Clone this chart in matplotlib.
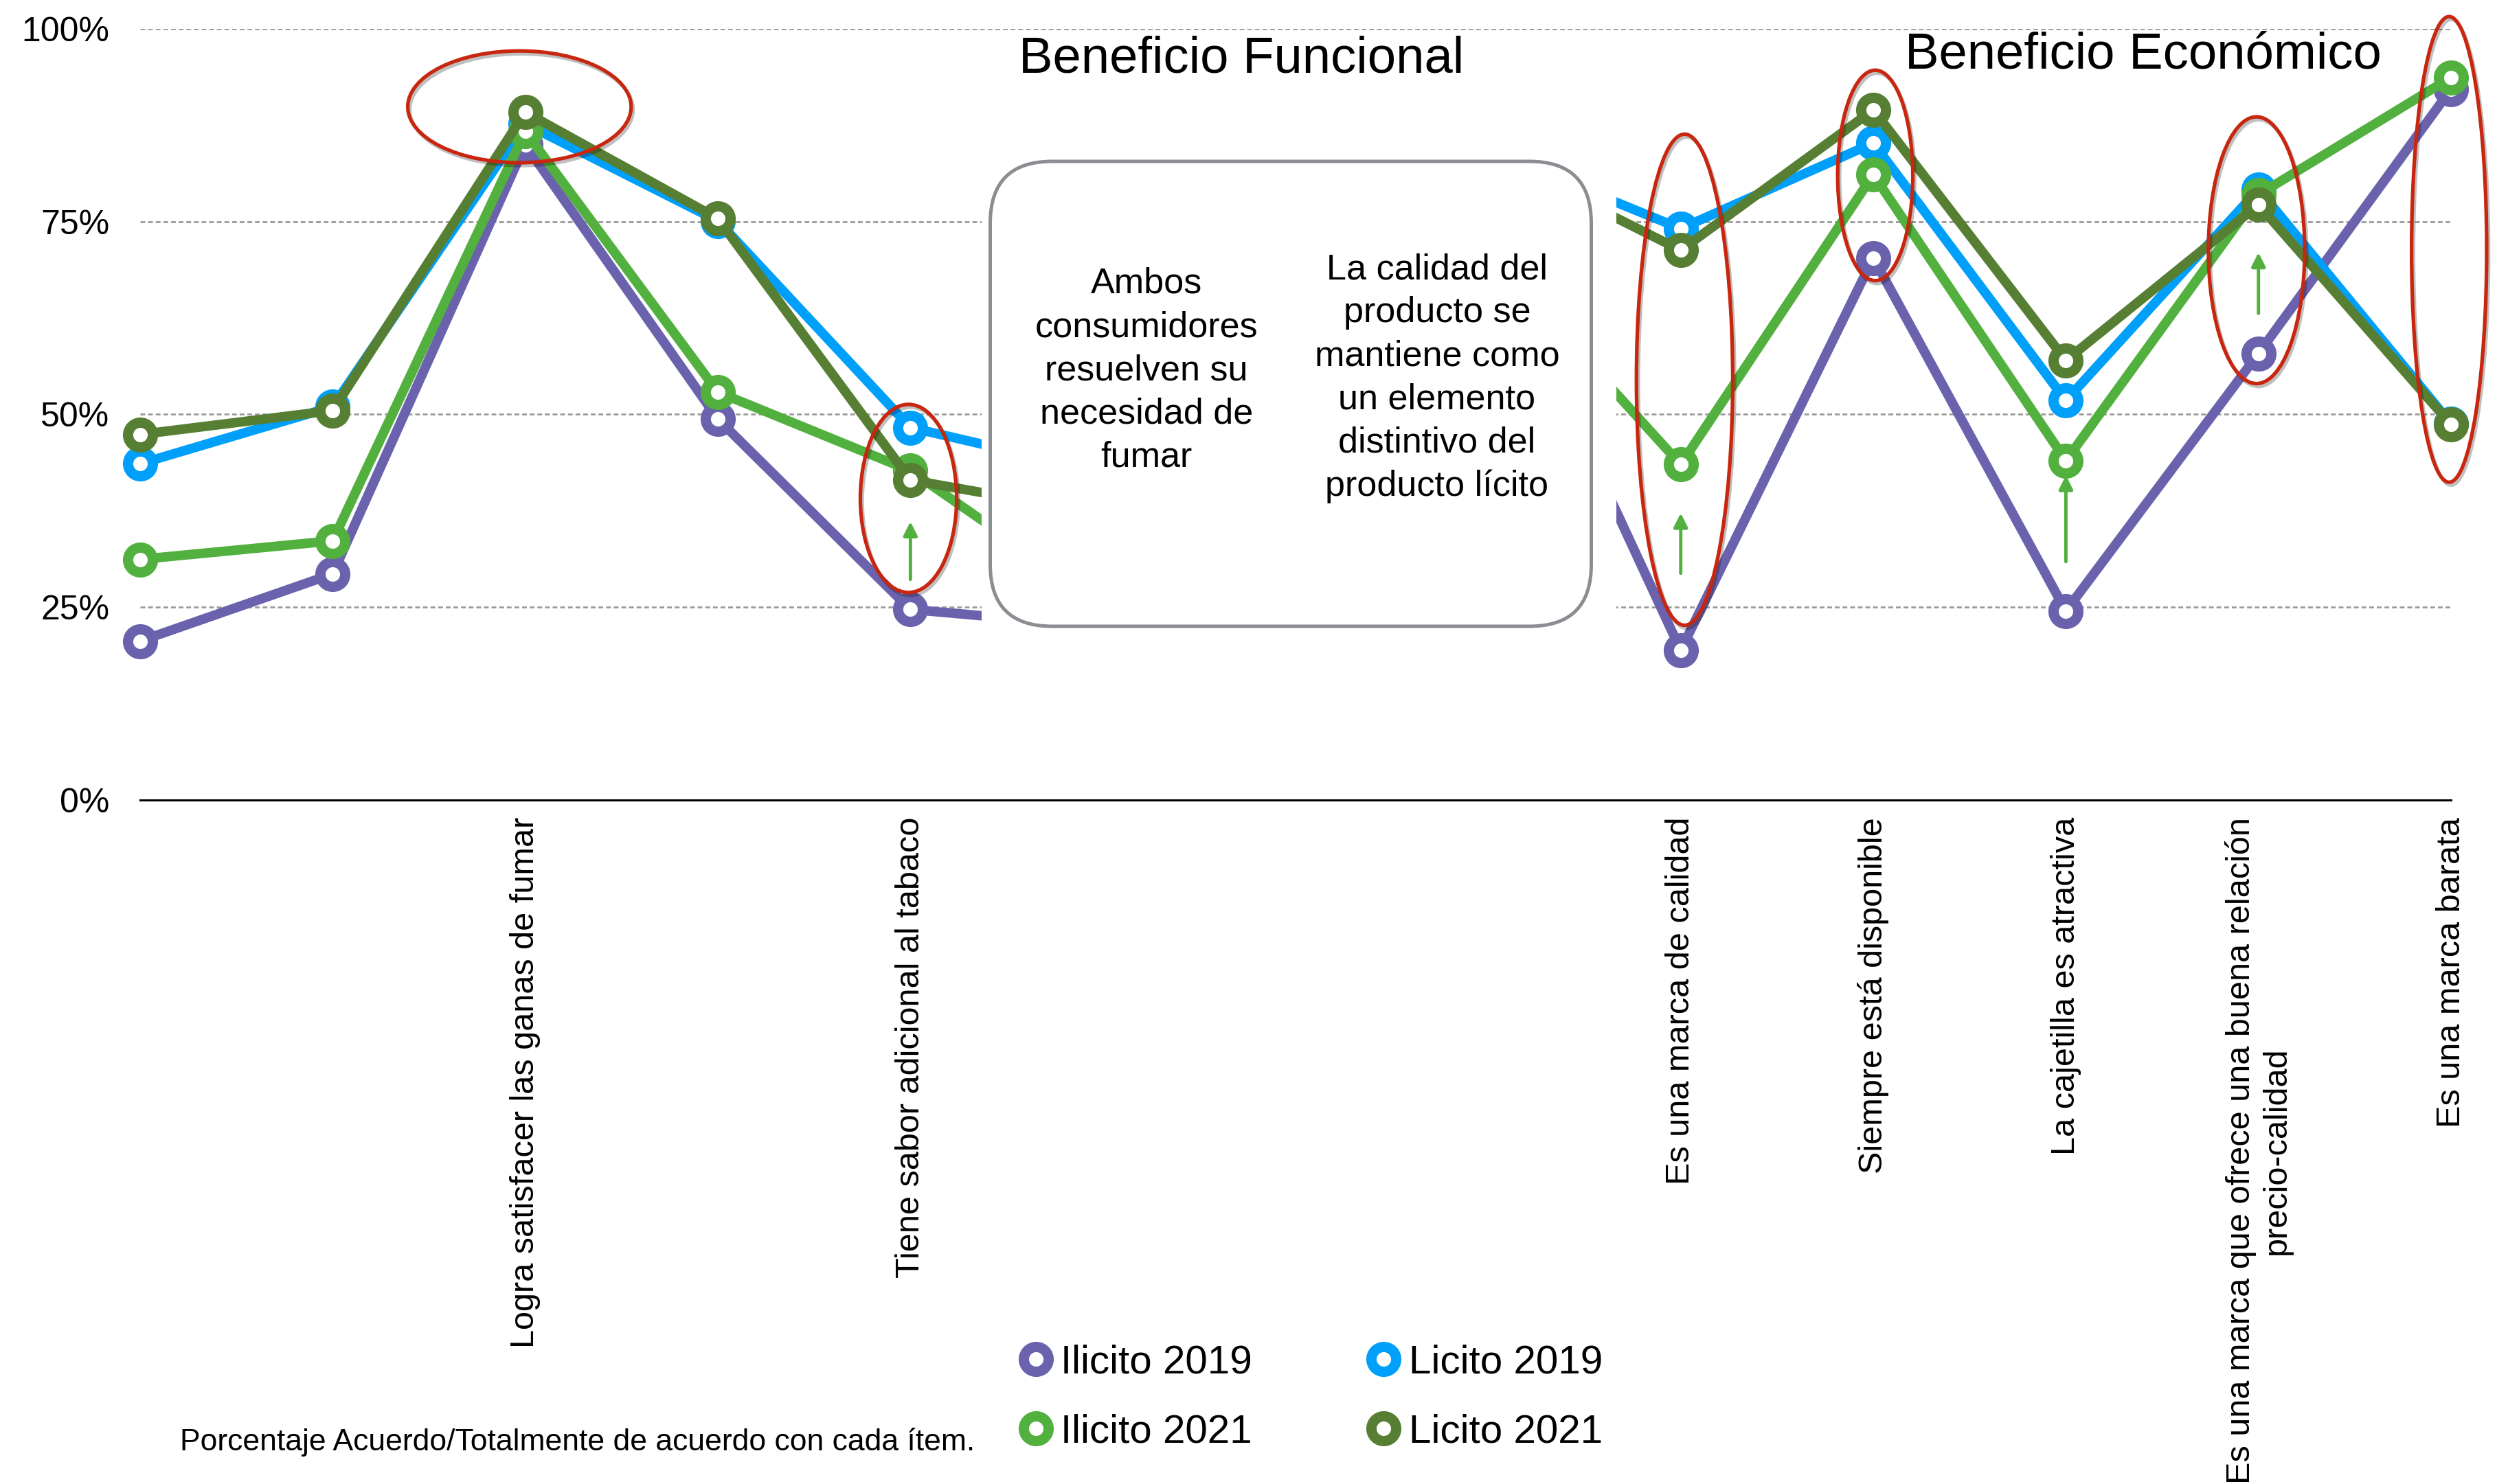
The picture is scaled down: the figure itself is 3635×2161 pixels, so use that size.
import numpy as np
import matplotlib.pyplot as plt
from matplotlib.lines import Line2D
from matplotlib.patches import Ellipse, Rectangle, FancyBboxPatch
import matplotlib.patheffects as pe

plt.rcParams['font.family'] = ['Liberation Sans', 'DejaVu Sans']

# items (only some carry a visible label in the slide)
items = ['', '', 'Logra satisfacer las ganas de fumar', '', 'Tiene sabor adicional al tabaco',
         '', '', '',
         'Es una marca de calidad', 'Siempre está disponible', 'La cajetilla es atractiva',
         'Es una marca que ofrece una buena relación\nprecio-calidad', 'Es una marca barata']

# % acuerdo / totalmente de acuerdo
ilicito_2019 = [20.6, 29.3, 85.0, 49.4, 24.7, 22.5, 47.0, 73.3, 19.4, 70.3, 24.5, 57.9, 92.2]
licito_2019 = [43.6, 51.0, 87.7, 75.1, 48.3, 42.5, 62.0, 84.3, 74.1, 85.2, 51.8, 79.2, 48.8]
ilicito_2021 = [31.2, 33.6, 86.7, 52.9, 42.7, 25.4, 46.0, 71.0, 43.5, 81.1, 44.0, 78.5, 93.7]
licito_2021 = [47.4, 50.5, 89.2, 75.4, 41.5, 37.1, 60.0, 83.8, 71.3, 89.5, 57.0, 77.2, 48.7]

yticks = [0, 25, 50, 75, 100]
ytick_labels = ['0%', '25%', '50%', '75%', '100%']

# red highlight ellipses: (x, y, width, height) in data units
highlights = [(1.97, 89.9, 1.16, 14.5), (3.99, 39.1, 0.50, 24.4), (8.02, 54.5, 0.50, 63.7),
              (9.01, 81.0, 0.39, 27.3), (10.99, 71.3, 0.50, 34.6), (11.99, 71.4, 0.39, 60.4)]
# small green arrows: (x, from, to)
arrows = [(4, 28.6, 36.1), (8, 29.4, 37.2), (10, 30.9, 42.1), (11, 63.1, 71.0)]

c_purple = '#6b62ae'
c_blue = '#00a0fa'
c_green = '#52b03e'
c_dgreen = '#567f33'
c_red = '#c8260e'

fig = plt.figure(figsize=(36.35, 21.61), dpi=100)
ax = fig.add_axes([0.0561, 0.461, 0.9255, 0.5195])

x = np.arange(len(items))
series = [(ilicito_2019, c_purple, 3), (licito_2019, c_blue, 4),
          (ilicito_2021, c_green, 5), (licito_2021, c_dgreen, 6)]
for vals, col, z in series:
    ax.plot(x, vals, color=col, lw=10, marker='o', ms=26, mew=10.8,
            mfc='white', mec=col, zorder=z, clip_on=False, solid_joinstyle='miter')

for (ex, ey, ew, eh) in highlights:
    e = Ellipse((ex, ey), ew, eh, fill=False, ec=c_red, lw=3.8, zorder=8, clip_on=False)
    e.set_path_effects([pe.SimpleLineShadow(offset=(2, -3), shadow_color='k', alpha=0.25),
                        pe.Normal()])
    ax.add_patch(e)

for (axx, y0, y1) in arrows:
    ax.annotate('', xy=(axx, y1), xytext=(axx, y0),
                arrowprops=dict(arrowstyle='-|>', color=c_green, lw=3.5,
                                mutation_scale=30, shrinkA=0, shrinkB=0), zorder=8)

# white cover over the middle of the chart
ax.add_patch(Rectangle((4.37, 0.6), 7.667 - 4.37, 98.6, fc='white', ec='none', zorder=9))

ax.set_xlim(0, 12)
ax.set_ylim(0, 100)
ax.set_xticks(x)
ax.set_xticklabels(items, rotation=90, fontsize=35, ha='center', va='top',
                   multialignment='center')
ax.set_yticks(yticks)
ax.set_yticklabels(ytick_labels, fontsize=36)
ax.tick_params(axis='x', length=0, pad=18)
ax.tick_params(axis='y', length=0, pad=32)
ax.yaxis.grid(True, color='#9a9a9a', lw=2, ls=(0, (2.5, 1.5)))
ax.set_axisbelow(True)
for s in ['top', 'right', 'left']:
    ax.spines[s].set_visible(False)
ax.spines['bottom'].set_color('black')
ax.spines['bottom'].set_linewidth(2.2)

# rounded comment box
box = FancyBboxPatch((14.415, 12.49), 23.165 - 14.415, 19.26 - 12.49,
                     boxstyle='round,pad=0,rounding_size=0.9',
                     transform=fig.dpi_scale_trans, fc='white', ec='#8a8d91', lw=3.6, zorder=10)
fig.add_artist(box)
fig.text(0.4592, 0.7503, 'Ambos\nconsumidores\nresuelven su\nnecesidad de\nfumar',
         ha='center', va='center', fontsize=37.5, linespacing=1.37, zorder=11)
fig.text(0.5755, 0.7452, 'La calidad del\nproducto se\nmantiene como\nun elemento\ndistintivo del\nproducto lícito',
         ha='center', va='center', fontsize=37.5, linespacing=1.37, zorder=11)

fig.text(0.4971, 0.9511, 'Beneficio Funcional', ha='center', va='baseline', fontsize=53.5, zorder=11)
fig.text(0.8582, 0.9540, 'Beneficio Económico', ha='center', va='baseline', fontsize=53.5, zorder=11)

fig.text(0.0721, 0.0227, 'Porcentaje Acuerdo/Totalmente de acuerdo con cada ítem.',
         ha='left', va='baseline', fontsize=32)

handles = [Line2D([], [], ls='none', marker='o', ms=26, mew=10.8, mfc='white', mec=c)
           for c in [c_purple, c_green, c_blue, c_dgreen]]
labels = ['Ilicito 2019', 'Ilicito 2021', 'Licito 2019', 'Licito 2021']
fig.legend(handles, labels, loc='center left', bbox_to_anchor=(0.4077, 0.0583), ncol=2,
           frameon=False, fontsize=42, handlelength=0.9, handletextpad=0.17,
           columnspacing=2.83, labelspacing=0.8, borderpad=0, borderaxespad=0)

fig.savefig('out.png', dpi=100, facecolor='white')
